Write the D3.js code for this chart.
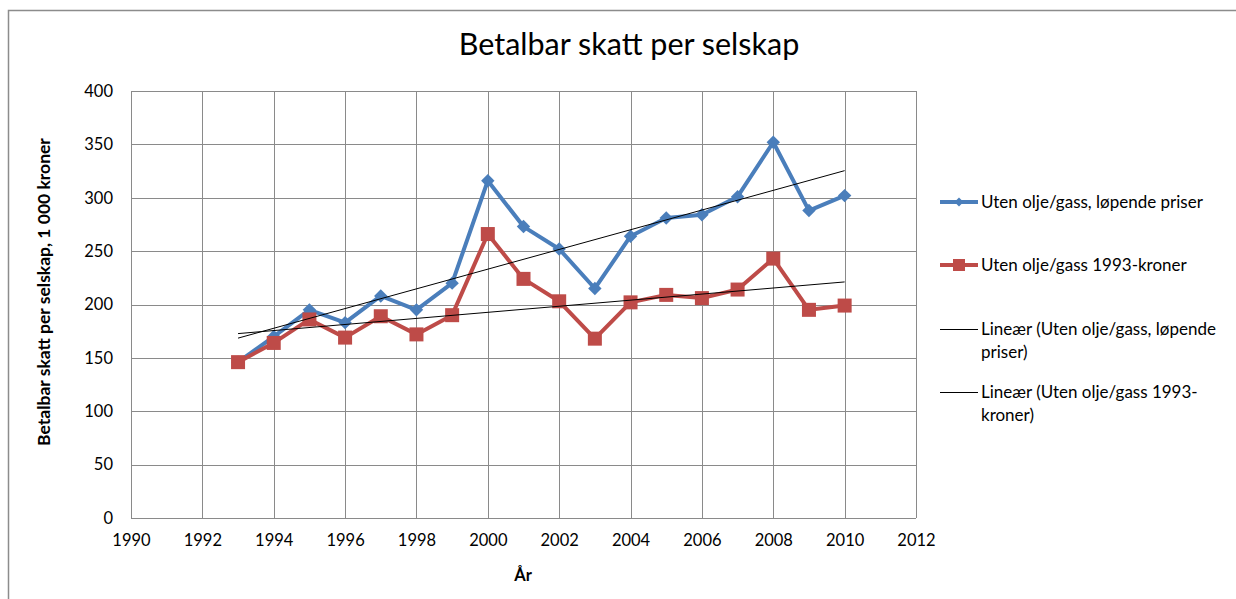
<!DOCTYPE html>
<html>
<head>
<meta charset="utf-8">
<script src="https://cdn.jsdelivr.net/npm/d3@7"></script>
<style>
  body { margin: 0; background: #fff; }
  text { font-family: Lato, "Open Sans", sans-serif; fill: #000; }
</style>
</head>
<body>
<div id="chart"></div>
<script>
// Data
var years = [1993, 1994, 1995, 1996, 1997, 1998, 1999, 2000, 2001, 2002, 2003, 2004, 2005, 2006, 2007, 2008, 2009, 2010];
var lopendePriser = [146, 170, 195, 183, 208, 195, 220, 316, 273, 252, 215, 264, 281, 284, 301, 352, 288, 302];
var kroner1993 = [146, 164, 186, 169, 189, 172, 190, 266, 224, 203, 168, 202, 209, 206, 214, 243, 195, 199];
var xTicks = [1990, 1992, 1994, 1996, 1998, 2000, 2002, 2004, 2006, 2008, 2010, 2012];
var yTicks = [0, 50, 100, 150, 200, 250, 300, 350, 400];
var legendLabels = [
  ["Uten olje/gass, løpende priser"],
  ["Uten olje/gass 1993-kroner"],
  ["Lineær (Uten olje/gass, løpende", "priser)"],
  ["Lineær (Uten olje/gass 1993-", "kroner)"]
];

var width = 1236, height = 599;
var plot = {left: 131, right: 916, top: 91, bottom: 518};
var blue = "#4a7ebb", red = "#be4b48";

var svg = d3.select("#chart").append("svg")
  .attr("width", width).attr("height", height);

// outer chart frame
svg.append("rect")
  .attr("x", 8.5).attr("y", 10.5)
  .attr("width", 1240).attr("height", 600)
  .attr("fill", "none").attr("stroke", "#8c8c8c").attr("stroke-width", 1.5);

var x = d3.scaleLinear().domain([1990, 2012]).range([plot.left, plot.right]);
var y = d3.scaleLinear().domain([0, 400]).range([plot.bottom, plot.top]);

// grid
svg.append("g").selectAll("line").data(yTicks).enter().append("line")
  .attr("x1", plot.left).attr("x2", plot.right)
  .attr("y1", function(d) { return Math.round(y(d)) + 0.5; })
  .attr("y2", function(d) { return Math.round(y(d)) + 0.5; })
  .attr("stroke", "#8a8a8a").attr("stroke-width", 1);

svg.append("g").selectAll("line").data(xTicks).enter().append("line")
  .attr("y1", plot.top).attr("y2", plot.bottom)
  .attr("x1", function(d) { return Math.round(x(d)) + 0.5; })
  .attr("x2", function(d) { return Math.round(x(d)) + 0.5; })
  .attr("stroke", "#8a8a8a").attr("stroke-width", 1);

// axes (labels only, Excel style)
var yAxis = svg.append("g").attr("transform", "translate(" + (plot.left - 6) + ",0)")
  .call(d3.axisLeft(y).tickValues(yTicks).tickSize(0).tickPadding(12));
yAxis.select(".domain").remove();
yAxis.selectAll("text").attr("font-size", "16.5px").style("font-family", "Lato, sans-serif");

var xAxis = svg.append("g").attr("transform", "translate(0," + (plot.bottom + 10) + ")")
  .call(d3.axisBottom(x).tickValues(xTicks).tickFormat(d3.format("d")).tickSize(0).tickPadding(6));
xAxis.select(".domain").remove();
xAxis.selectAll("text").attr("font-size", "16.5px").style("font-family", "Lato, sans-serif");

// titles
svg.append("text").attr("x", 629).attr("y", 55).attr("text-anchor", "middle")
  .attr("font-size", "30.5px").text("Betalbar skatt per selskap");

svg.append("text").attr("x", 523).attr("y", 581).attr("text-anchor", "middle")
  .attr("font-size", "16.5px").attr("font-weight", "bold").text("År");

svg.append("text")
  .attr("transform", "translate(50,292) rotate(-90)")
  .attr("text-anchor", "middle").attr("font-size", "17.5px").attr("font-weight", "bold")
  .text("Betalbar skatt per selskap, 1 000 kroner");

// least squares trend lines
function trend(vals) {
  var mx = d3.mean(years), my = d3.mean(vals);
  var sxy = d3.sum(years, function(t, i) { return (t - mx) * (vals[i] - my); });
  var sxx = d3.sum(years, function(t) { return (t - mx) * (t - mx); });
  var b = sxy / sxx, a = my - b * mx;
  return [years[0], years[years.length - 1]].map(function(t) { return [t, a + b * t]; });
}

var line = d3.line().x(function(d) { return x(d[0]); }).y(function(d) { return y(d[1]); });

function pairs(vals) { return years.map(function(t, i) { return [t, vals[i]]; }); }

// series lines
svg.append("path").datum(pairs(lopendePriser)).attr("d", line)
  .attr("fill", "none").attr("stroke", blue).attr("stroke-width", 4).attr("stroke-linejoin", "round");
svg.append("path").datum(pairs(kroner1993)).attr("d", line)
  .attr("fill", "none").attr("stroke", red).attr("stroke-width", 4).attr("stroke-linejoin", "round");

// markers
var diamond = d3.symbol().type(d3.symbolSquare).size(90);
svg.append("g").selectAll("path").data(pairs(lopendePriser)).enter().append("path")
  .attr("d", diamond)
  .attr("transform", function(d) { return "translate(" + x(d[0]) + "," + y(d[1]) + ") rotate(45)"; })
  .attr("fill", blue);

svg.append("g").selectAll("rect").data(pairs(kroner1993)).enter().append("rect")
  .attr("x", function(d) { return x(d[0]) - 7; })
  .attr("y", function(d) { return y(d[1]) - 7; })
  .attr("width", 14).attr("height", 14)
  .attr("fill", red);

// trend lines on top
svg.append("path").datum(trend(lopendePriser)).attr("d", line)
  .attr("fill", "none").attr("stroke", "#000").attr("stroke-width", 1);
svg.append("path").datum(trend(kroner1993)).attr("d", line)
  .attr("fill", "none").attr("stroke", "#000").attr("stroke-width", 1);

// legend
var legendY = [202, 265, 329, 392];
var lg = svg.append("g");
legendLabels.forEach(function(lines, i) {
  var ly = legendY[i];
  var g = lg.append("g");
  if (i < 2) {
    g.append("line").attr("x1", 940).attr("x2", 978).attr("y1", ly).attr("y2", ly)
      .attr("stroke", i === 0 ? blue : red).attr("stroke-width", 4);
    if (i === 0) {
      g.append("path").attr("d", d3.symbol().type(d3.symbolSquare).size(40))
        .attr("transform", "translate(959," + ly + ") rotate(45)").attr("fill", blue);
    } else {
      g.append("rect").attr("x", 953).attr("y", ly - 6).attr("width", 12).attr("height", 12).attr("fill", red);
    }
  } else {
    g.append("line").attr("x1", 940).attr("x2", 978).attr("y1", ly + 0.5).attr("y2", ly + 0.5)
      .attr("stroke", "#000").attr("stroke-width", 1);
  }
  lines.forEach(function(t, j) {
    g.append("text").attr("x", 981).attr("y", ly + 6 + j * 23)
      .attr("font-size", "17px").text(t);
  });
});
</script>
</body>
</html>
